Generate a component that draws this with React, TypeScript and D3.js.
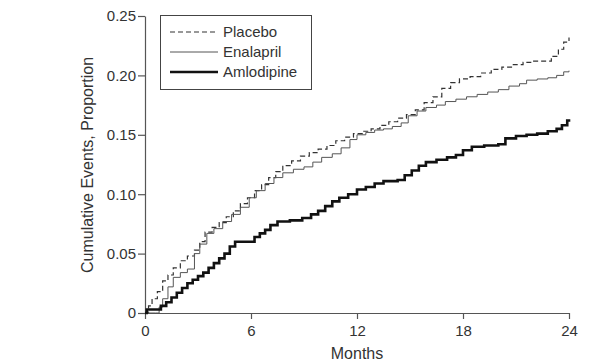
import React, { useEffect, useRef } from 'react'
import * as d3 from 'd3'

// months / cumulative proportion
const placeboMonths = [0, 0.2, 0.4, 0.7, 1.0, 1.3, 1.6, 2.0, 2.4, 2.8, 3.1, 3.4, 3.8, 4.2, 4.6, 5.0, 5.4, 5.8, 6.2, 6.6, 7.0, 7.4, 7.8, 8.3, 8.8, 9.3, 9.8, 10.3, 10.8, 11.3, 11.8, 12.3, 12.8, 13.3, 13.8, 14.3, 14.8, 15.3, 15.8, 16.3, 16.8, 17.3, 17.8, 18.4, 19.0, 19.6, 20.2, 20.8, 21.4, 22.0, 22.6, 23.0, 23.4, 23.7, 24.0]
const placeboValues = [0, 0.006, 0.012, 0.018, 0.027, 0.032, 0.038, 0.044, 0.048, 0.053, 0.06, 0.068, 0.072, 0.076, 0.081, 0.086, 0.092, 0.097, 0.103, 0.108, 0.114, 0.119, 0.124, 0.128, 0.132, 0.135, 0.138, 0.141, 0.145, 0.148, 0.151, 0.153, 0.155, 0.158, 0.161, 0.164, 0.167, 0.171, 0.177, 0.182, 0.189, 0.194, 0.197, 0.199, 0.202, 0.205, 0.207, 0.209, 0.211, 0.212, 0.212, 0.216, 0.222, 0.228, 0.232]

const enalaprilMonths = [0, 0.6, 0.8, 1.0, 1.3, 1.6, 2.0, 2.4, 2.8, 3.1, 3.5, 3.9, 4.4, 4.9, 5.4, 5.9, 6.3, 6.8, 7.3, 7.8, 8.4, 9.0, 9.5, 10.0, 10.6, 11.1, 11.6, 12.0, 12.5, 13.0, 13.5, 14.0, 14.5, 14.9, 15.4, 15.9, 16.5, 17.0, 17.6, 18.2, 18.8, 19.4, 20.0, 20.6, 21.2, 21.6, 22.2, 22.8, 23.3, 23.7, 24.0]
const enalaprilValues = [0, 0, 0.005, 0.012, 0.022, 0.03, 0.034, 0.037, 0.05, 0.058, 0.067, 0.071, 0.077, 0.083, 0.089, 0.097, 0.103, 0.109, 0.114, 0.118, 0.121, 0.123, 0.127, 0.131, 0.134, 0.139, 0.146, 0.15, 0.152, 0.154, 0.155, 0.157, 0.16, 0.166, 0.17, 0.173, 0.175, 0.178, 0.18, 0.182, 0.184, 0.186, 0.188, 0.191, 0.193, 0.196, 0.197, 0.198, 0.2, 0.203, 0.204]

const amlodipineMonths = [0, 0.1, 0.7, 0.9, 1.2, 1.5, 1.8, 2.1, 2.4, 2.7, 3.0, 3.3, 3.6, 3.9, 4.2, 4.5, 4.8, 5.1, 5.9, 6.2, 6.5, 6.8, 7.1, 7.5, 8.2, 8.9, 9.4, 9.8, 10.2, 10.6, 11.0, 11.5, 12.0, 12.5, 13.0, 13.5, 14.3, 14.7, 15.1, 15.5, 15.9, 16.5, 17.1, 17.6, 18.0, 18.5, 19.2, 20.0, 20.4, 21.0, 21.6, 22.2, 22.8, 23.3, 23.6, 23.9, 24.0]
const amlodipineValues = [0, 0.003, 0.003, 0.006, 0.009, 0.013, 0.017, 0.021, 0.025, 0.028, 0.031, 0.034, 0.038, 0.042, 0.046, 0.05, 0.056, 0.06, 0.06, 0.064, 0.067, 0.07, 0.074, 0.077, 0.078, 0.08, 0.083, 0.086, 0.09, 0.094, 0.097, 0.1, 0.104, 0.106, 0.109, 0.111, 0.112, 0.116, 0.12, 0.124, 0.127, 0.129, 0.131, 0.133, 0.137, 0.14, 0.141, 0.142, 0.147, 0.149, 0.15, 0.151, 0.153, 0.155, 0.158, 0.162, 0.163]

const seriesNames = ['Placebo', 'Enalapril', 'Amlodipine']
const xTicks = [0, 6, 12, 18, 24]
const yTicks = [0, 0.05, 0.1, 0.15, 0.2, 0.25]

const font = 'Liberation Sans, Arial, sans-serif'

export default function App() {
  const ref = useRef<SVGSVGElement>(null)

  useEffect(() => {
    const svg = d3.select(ref.current)
    svg.selectAll('*').remove()

    const x = d3.scaleLinear().domain([0, 24]).range([145, 569])
    const y = d3.scaleLinear().domain([0, 0.25]).range([313, 16])

    const styles = [
      { stroke: '#333', width: 1.2, dash: '5,3' },
      { stroke: '#555', width: 1, dash: null },
      { stroke: '#111', width: 2.6, dash: null },
    ]
    const data = [
      d3.zip(placeboMonths, placeboValues),
      d3.zip(enalaprilMonths, enalaprilValues),
      d3.zip(amlodipineMonths, amlodipineValues),
    ]

    // axes
    const xAxis = svg.append('g')
      .attr('transform', 'translate(0,313)')
      .call(d3.axisBottom(x).tickValues(xTicks).tickSize(6).tickSizeOuter(0).tickFormat(d3.format('d')))
    const yAxis = svg.append('g')
      .attr('transform', 'translate(145,0)')
      .call(d3.axisLeft(y).tickValues(yTicks).tickSize(7).tickSizeOuter(0)
        .tickFormat(d => (d === 0 ? '0' : d3.format('.2f')(d as number))))
    for (const ax of [xAxis, yAxis]) {
      ax.select('.domain').attr('stroke', '#555').attr('stroke-width', 1.2)
      ax.selectAll('.tick line').attr('stroke', '#555').attr('stroke-width', 1.2)
      ax.selectAll('.tick text')
        .attr('fill', '#333')
        .style('font-family', font)
        .style('font-size', '15px')
    }
    xAxis.selectAll('.tick text').attr('dy', '0.95em')
    yAxis.selectAll('.tick text').attr('x', -9)

    // curves
    const line = d3.line<[number, number]>()
      .x(d => x(d[0]))
      .y(d => y(d[1]))
      .curve(d3.curveStepAfter)
    data.forEach((pts, i) => {
      svg.append('path')
        .attr('d', line(pts as [number, number][]))
        .attr('fill', 'none')
        .attr('stroke', styles[i].stroke)
        .attr('stroke-width', styles[i].width)
        .attr('stroke-dasharray', styles[i].dash)
    })

    // axis titles
    svg.append('text')
      .attr('x', 357).attr('y', 359)
      .attr('text-anchor', 'middle')
      .attr('fill', '#333')
      .style('font-family', font).style('font-size', '16px')
      .text('Months')
    svg.append('text')
      .attr('transform', 'translate(93,165) rotate(-90)')
      .attr('text-anchor', 'middle')
      .attr('fill', '#333')
      .style('font-family', font).style('font-size', '16px')
      .text('Cumulative Events, Proportion')

    // legend
    const lg = svg.append('g')
    lg.append('rect')
      .attr('x', 160.5).attr('y', 15.5).attr('width', 151).attr('height', 74)
      .attr('fill', 'white').attr('stroke', '#444').attr('stroke-width', 1)
    seriesNames.forEach((name, i) => {
      const ry = 32 + i * 20
      lg.append('line')
        .attr('x1', 170).attr('x2', 218).attr('y1', ry).attr('y2', ry)
        .attr('stroke', styles[i].stroke)
        .attr('stroke-width', styles[i].width)
        .attr('stroke-dasharray', styles[i].dash)
      lg.append('text')
        .attr('x', 223).attr('y', ry + 5)
        .attr('fill', '#333')
        .style('font-family', font).style('font-size', '15px')
        .text(name)
    })
  }, [])

  return (
    <svg ref={ref} width={589} height={364}
      style={{ position: 'absolute', left: 0, top: 0, background: 'white' }} />
  )
}
